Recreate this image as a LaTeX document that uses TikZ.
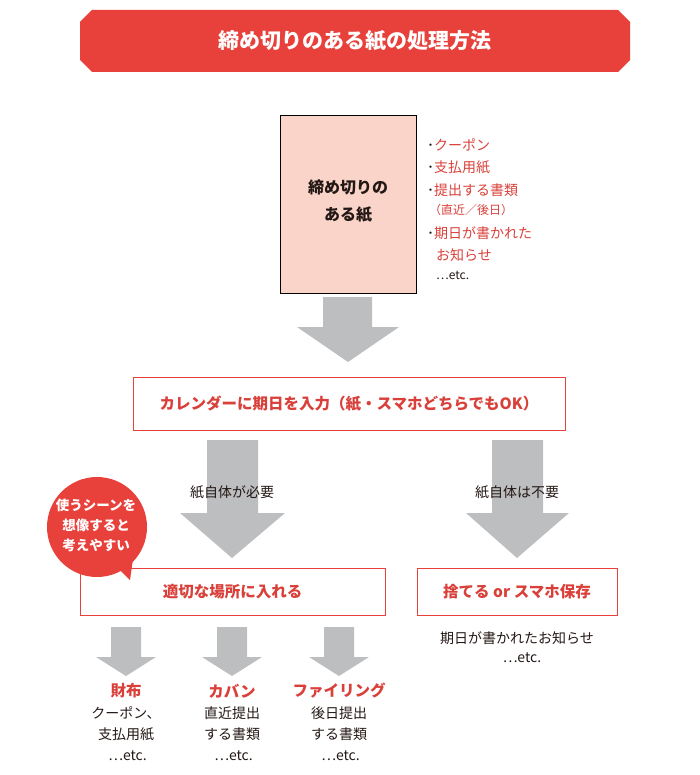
\documentclass[tikz,border=0pt]{standalone}
\usepackage{fontspec}
\setmainfont{Noto Sans CJK JP}
\usepackage{tikz}
\definecolor{mainred}{HTML}{E8403A}
\definecolor{paperpink}{HTML}{FAD4C8}
\definecolor{arrowgray}{HTML}{BDBEC0}
\definecolor{textred}{HTML}{D9403A}
\definecolor{textdark}{HTML}{231815}

\begin{document}
\begin{tikzpicture}[x=1pt,y=-1pt,
  every node/.style={font=\fontsize{14}{18}\selectfont,text=textdark,inner sep=0pt},
  redbox/.style={draw=mainred,line width=0.8pt,fill=white},
  redlabel/.style={text=textred,font=\fontsize{15.5}{19}\selectfont\bfseries},
  bigarrow/.style={fill=arrowgray}]
\useasboundingbox (0,0) rectangle (699,775);

% title banner
\fill[mainred] (92,10) -- (618,10) -- (630,22) -- (630,60) -- (618,72) -- (92,72) -- (80,60) -- (80,22) -- cycle;
\node[text=white,font=\fontsize{21}{24}\selectfont\bfseries] (Title) at (355,41) {締め切りのある紙の処理方法};

% paper
\draw[fill=paperpink,line width=0.7pt] (280,115) rectangle (416,293);
\node[align=center,font=\fontsize{16}{27}\selectfont\bfseries] (Paper) at (348,201) {締め切りの\\ある紙};
\node[anchor=west,text=textred,font=\fontsize{14}{22}\selectfont] (ListA) at (427,145) {\textcolor{textdark}{･}クーポン};
\node[anchor=west,text=textred,font=\fontsize{14}{22}\selectfont] (ListB) at (427,167) {\textcolor{textdark}{･}支払用紙};
\node[anchor=west,text=textred,font=\fontsize{14}{22}\selectfont] (ListC) at (427,190) {\textcolor{textdark}{･}提出する書類};
\node[anchor=west,text=textred,font=\fontsize{12}{14}\selectfont] (ListD) at (429,210) {（直近／後日）};
\node[anchor=west,text=textred,font=\fontsize{14}{22}\selectfont] (ListE) at (427,233) {\textcolor{textdark}{･}期日が書かれた};
\node[anchor=west,text=textred,font=\fontsize{14}{22}\selectfont] (ListF) at (436,255) {お知らせ};
\node[anchor=west,font=\fontsize{12}{14}\selectfont] (ListG) at (436,275) {…etc.};

% arrow to calendar
\fill[bigarrow] (323,297) -- (372,297) -- (372,327) -- (399,327) -- (348,362) -- (297,327) -- (323,327) -- cycle;

\node[redbox,minimum width=432pt,minimum height=53pt] (Calendar) at (349,404) {};
\node[redlabel] (CalText) at (Calendar) {カレンダーに期日を入力（紙・スマホどちらでもOK）};

% branch arrows
\fill[bigarrow] (207,440) -- (258,440) -- (258,513) -- (285,513) -- (232,558) -- (180,513) -- (207,513) -- cycle;
\fill[bigarrow] (492,440) -- (543,440) -- (543,513) -- (569,513) -- (517,558) -- (466,513) -- (492,513) -- cycle;
\node (NeedLabel) at (232,492) {紙自体が必要};
\node (NoNeedLabel) at (517,492) {紙自体は不要};

\node[redbox,minimum width=305pt,minimum height=47pt] (Place) at (232.5,592) {};
\node[redlabel] (PlaceText) at (Place) {適切な場所に入れる};
\node[redbox,minimum width=200pt,minimum height=47pt] (Trash) at (517,592) {};
\node[redlabel] (TrashText) at (Trash) {捨てる or スマホ保存};
\node (TrashNote) at (517,638) {期日が書かれたお知らせ};
\node (TrashEtc) at (522,658) {…etc.};

% speech bubble
\fill[mainred] (97,527) circle (50);
\fill[mainred] (110,560) -- (130,580) -- (135,545) -- cycle;
\node[align=center,text=white,font=\fontsize{13.5}{20}\selectfont\bfseries] (Bubble) at (96,525) {使うシーンを\\想像すると\\考えやすい};

% small arrows
\foreach \x in {126,232,339}
  \fill[bigarrow] (\x-15,627) -- (\x+15,627) -- (\x+15,657) -- (\x+30,657) -- (\x,676) -- (\x-30,657) -- (\x-15,657) -- cycle;

\node[redlabel] (Wallet) at (126,691) {財布};
\node[redlabel] (Bag) at (232,691) {カバン};
\node[redlabel] (Filing) at (339,691) {ファイリング};
\node[align=center,font=\fontsize{14}{21}\selectfont] (WalletNote) at (126,734) {クーポン、\\支払用紙\\\ …etc.};
\node[align=center,font=\fontsize{14}{21}\selectfont] (BagNote) at (232,734) {直近提出\\する書類\\\ …etc.};
\node[align=center,font=\fontsize{14}{21}\selectfont] (FilingNote) at (339,734) {後日提出\\する書類\\\ …etc.};
\end{tikzpicture}
\end{document}
